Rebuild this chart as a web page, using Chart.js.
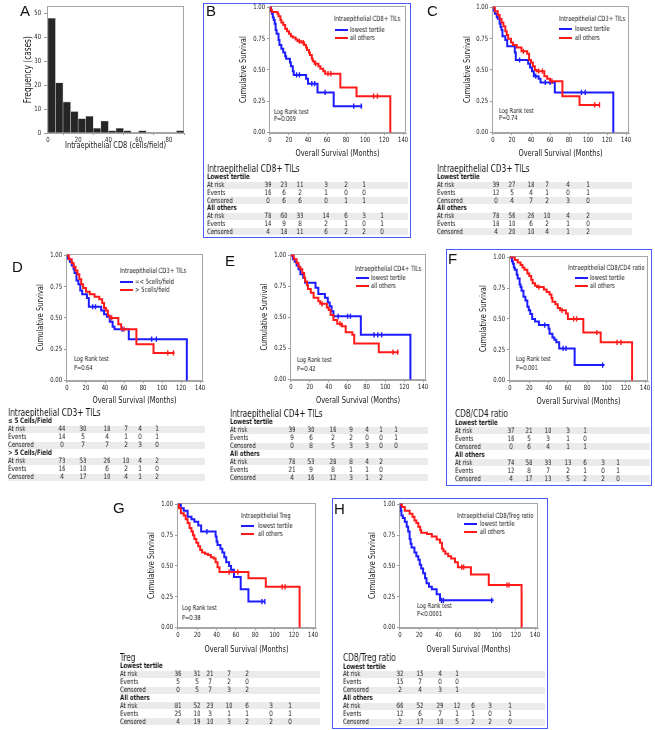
<!DOCTYPE html>
<html><head><meta charset="utf-8">
<script src="https://cdn.jsdelivr.net/npm/chart.js@4.4.1/dist/chart.umd.min.js"></script>
<style>
html,body{margin:0;padding:0;background:#fff;}
body{width:655px;height:730px;position:relative;overflow:hidden;font-family:'DejaVu Sans Condensed','Liberation Sans Narrow','Arial Narrow',sans-serif;color:#161616;}
.abs{position:absolute;white-space:nowrap;line-height:1;will-change:transform;}
canvas{position:absolute;}
.letter{position:absolute;font-family:'Liberation Sans',Arial,sans-serif;font-size:15px;line-height:1;color:#111;}
.box{position:absolute;border:1.5px solid #4b5cff;box-sizing:border-box;}
.shade{position:absolute;background:#ebebeb;}
.lg{position:absolute;height:2px;}
</style></head><body>
<script>
const NARROW = "'DejaVu Sans Condensed','Liberation Sans Narrow','Arial Narrow',sans-serif";
const NARROW_SCALE = 0.82;
const BLUE = '#1c1cff', RED = '#ff1a1a';

// ---------------- DATA ----------------
// Panel A histogram (bin width 5)
const A_binStarts = [0,5,10,15,20,25,30,35,40,45,50,55,60,65,70,75,80,85];
const A_counts    = [48,21,13,9,6,7,2,5,1,2,1,0,1,0,0,0,0,1];
const A_xTicks = [0,20,40,60,80];
const A_yTicks = [0,10,20,30,40,50];

const KM_xTicks = [0,20,40,60,80,100,120,140];
const KM_yTicks = [0,0.25,0.5,0.75,1];

// Kaplan-Meier curves: [month, cumulative survival]
const B_low_curve = [[0,1],[1,0.97],[2,0.95],[3,0.92],[4,0.90],[5,0.87],[6,0.82],[7,0.79],[9,0.74],[10,0.70],[12,0.67],[14,0.64],[16,0.61],[17,0.59],[21,0.56],[22,0.53],[24,0.49],[25,0.46],[38,0.43],[40,0.39],[50,0.32],[67,0.21],[97,0.21]];
const B_low_cens  = [28,31,44,47,58,88,96];
const B_oth_curve = [[0,1],[1,0.98],[2,0.965],[8,0.95],[9,0.93],[11,0.90],[12,0.88],[14,0.86],[16,0.83],[18,0.81],[20,0.79],[22,0.77],[24,0.76],[27,0.745],[29,0.73],[33,0.72],[36,0.70],[38,0.68],[39,0.66],[41,0.64],[42,0.62],[44,0.59],[45,0.57],[47,0.55],[51,0.53],[53,0.51],[56,0.49],[58,0.47],[74,0.36],[91,0.29],[126.5,0]];
const B_oth_cens  = [31,35,48,61,64,109,113];

const C_low_curve = [[0,1],[1,0.975],[2,0.95],[4,0.925],[5,0.91],[7,0.87],[8,0.845],[9,0.82],[10,0.77],[13,0.74],[15,0.69],[23,0.64],[24,0.58],[37,0.55],[39,0.52],[41,0.49],[43,0.45],[48,0.43],[50,0.40],[65,0.32],[126.5,0]];
const C_low_cens  = [28,45,55,60,93,97];
const C_oth_curve = [[0,1],[2,0.97],[5,0.94],[7,0.91],[9,0.88],[11,0.85],[13,0.81],[14.5,0.78],[16,0.75],[19,0.72],[21,0.70],[25,0.68],[30,0.65],[36,0.63],[38,0.58],[40,0.56],[42,0.53],[44,0.50],[46,0.49],[54,0.45],[57,0.43],[60,0.41],[73,0.29],[91,0.22],[112,0.22]];
const C_oth_cens  = [32,48,52,62,107,112];

const D_low_curve = [[0,1],[1,0.975],[3,0.95],[5,0.92],[7,0.89],[8,0.86],[10,0.80],[12,0.77],[14,0.72],[16,0.69],[21,0.66],[23,0.59],[36,0.56],[39,0.53],[42,0.51],[45,0.47],[48,0.43],[50,0.41],[65,0.33],[126,0]];
const D_low_cens  = [27,30,58,89,94];
const D_oth_curve = [[0,1],[2,0.97],[5,0.94],[7,0.91],[9,0.88],[11,0.85],[13,0.81],[15,0.77],[17,0.74],[20,0.71],[24,0.69],[29,0.67],[34,0.65],[37,0.62],[39,0.58],[41,0.56],[43,0.52],[45,0.50],[54,0.45],[57,0.41],[73,0.29],[91,0.22],[113,0.22]];
const D_oth_cens  = [47,60,106,112];

const E_low_curve = [[0,1],[2,0.97],[4,0.95],[6,0.92],[8,0.89],[10,0.85],[13,0.82],[15,0.78],[26,0.74],[29,0.69],[36,0.66],[39,0.62],[41,0.59],[43,0.55],[45,0.51],[74,0.36],[126.5,0]];
const E_low_cens  = [50,60,63,88,92,96];
const E_oth_curve = [[0,1],[3,0.97],[6,0.94],[8,0.91],[10,0.89],[12,0.86],[14,0.82],[15,0.79],[17,0.76],[18,0.73],[21,0.70],[24,0.66],[29,0.63],[31,0.61],[38,0.58],[40,0.56],[42,0.52],[45,0.48],[49,0.45],[54,0.43],[58,0.38],[65,0.36],[67,0.29],[93,0.22],[114,0.22]];
const E_oth_cens  = [33,52,108,113];

const F_low_curve = [[0,1],[2,0.97],[3,0.95],[4,0.92],[5,0.90],[7,0.86],[8,0.83],[10,0.78],[11,0.76],[12,0.73],[14,0.68],[16,0.65],[18,0.60],[19.5,0.57],[21,0.54],[23,0.50],[26,0.48],[30,0.45],[40,0.42],[41,0.38],[44,0.35],[46,0.33],[48,0.31],[51,0.26],[67,0.125],[98,0.125]];
const F_low_cens  = [36,55,58,96];
const F_oth_curve = [[0,1],[5,0.98],[8,0.96],[11,0.94],[13,0.92],[15,0.90],[18,0.87],[20,0.85],[22,0.82],[23.5,0.79],[26,0.77],[28,0.76],[35,0.74],[38,0.72],[41,0.70],[43,0.67],[44,0.64],[47,0.62],[49.5,0.59],[52,0.57],[58,0.545],[60,0.50],[76,0.39],[94,0.31],[126.5,0]];
const F_oth_cens  = [30,54,66,69,90,111,115];

const G_low_curve = [[0,1],[3,0.97],[6,0.95],[10,0.90],[14,0.88],[17,0.86],[21,0.83],[24,0.78],[39,0.74],[40,0.70],[41,0.67],[44,0.64],[46,0.61],[48,0.57],[50,0.53],[53,0.50],[55,0.47],[58,0.41],[65,0.31],[73,0.21],[90,0.21]];
const G_low_cens  = [30,87,90];
const G_oth_curve = [[0,1],[1,0.97],[3,0.93],[6,0.91],[8,0.88],[10,0.85],[12,0.81],[14,0.78],[15.5,0.75],[17,0.72],[19,0.69],[21,0.66],[23,0.63],[25,0.61],[28,0.60],[31,0.59],[34,0.57],[37,0.56],[39,0.53],[41,0.49],[43,0.45],[73,0.40],[91,0.33],[126,0]];
const G_oth_cens  = [53,62,108,111];

const H_low_curve = [[0,1],[1,0.95],[1.5,0.91],[3,0.89],[5,0.86],[7,0.82],[8.5,0.78],[10,0.72],[11,0.68],[12,0.65],[15,0.61],[17,0.58],[19,0.55],[20.5,0.51],[22,0.48],[24,0.44],[26,0.40],[27.5,0.36],[30,0.33],[33,0.31],[38,0.27],[41.5,0.22],[97,0.22]];
const H_low_cens  = [43,45,95];
const H_oth_curve = [[0,1],[2,0.98],[5,0.95],[10,0.925],[13,0.90],[15,0.87],[17,0.85],[19,0.82],[21,0.79],[22,0.77],[28,0.76],[33,0.74],[38,0.715],[41.5,0.69],[43.5,0.64],[45,0.62],[47,0.60],[50,0.58],[53,0.56],[57,0.53],[60,0.49],[73.5,0.43],[92,0.345],[126,0]];
const H_oth_cens  = [64,66,111,113];

// Numbers-at-risk tables: rows = At risk, Events, Censored
const ROW_LABELS = ['At risk','Events','Censored'];
const B_low_table = [[39,23,11,3,2,1],[16,6,2,1,0,0],[0,6,6,0,1,1]];
const B_oth_table = [[78,60,33,14,6,3,1],[14,9,8,2,1,0,1],[4,18,11,6,2,2,0]];
const C_low_table = [[39,27,18,7,4,1],[12,5,4,1,0,1],[0,4,7,2,3,0]];
const C_oth_table = [[78,56,26,10,4,2],[18,10,6,2,1,0],[4,20,10,4,1,2]];
const D_low_table = [[44,30,18,7,4,1],[14,5,4,1,0,1],[0,7,7,2,3,0]];
const D_oth_table = [[73,53,26,10,4,2],[16,10,6,2,1,0],[4,17,10,4,1,2]];
const E_low_table = [[39,30,16,9,4,1,1],[9,6,2,2,0,0,1],[0,8,5,3,3,0,0]];
const E_oth_table = [[78,53,28,8,4,2],[21,9,8,1,1,0],[4,16,12,3,1,2]];
const F_low_table = [[37,21,10,3,1],[16,5,3,1,0],[0,6,4,1,1]];
const F_oth_table = [[74,58,33,13,6,3,1],[12,8,7,2,1,0,1],[4,17,13,5,2,2,0]];
const G_low_table = [[36,31,21,7,2],[5,5,7,2,0],[0,5,7,3,2]];
const G_oth_table = [[81,52,23,10,6,3,1],[25,10,3,1,1,0,1],[4,19,10,3,2,2,0]];
const H_low_table = [[32,15,4,1],[15,7,0,0],[2,4,3,1]];
const H_oth_table = [[66,52,29,12,6,3,1],[12,6,7,1,1,0,1],[2,17,10,5,2,2,0]];

// Texts
const LEGEND_TITLES = {B:'Intraepithelial CD8+ TILs',C:'Intraepithelial CD3+ TILs',D:'Intraepithelial CD3+ TILs',E:'Intraepithelial CD4+ TILs',F:'Intraepithelial CD8/CD4 ratio',G:'Intraepithelial Treg',H:'Intraepithelial CD8/Treg ratio'};
const SERIES_NAMES = ['lowest tertile','all others'];
const D_SERIES_NAMES = ['=< 5cells/field','> 5cells/field'];
const P_VALUES = {B:'P=0.009',C:'P=0.74',D:'P=0.64',E:'P=0.42',F:'P=0.001',G:'P=0.38',H:'P<0.0001'};
const TABLE_TITLES = {B:'Intraepithelial CD8+ TILs',C:'Intraepithelial CD3+ TILs',D:'Intraepithelial CD3+ TILs',E:'Intraepithelial CD4+ TILs',F:'CD8/CD4 ratio',G:'Treg',H:'CD8/Treg ratio'};
const GROUPS = ['Lowest tertile','All others'];
const D_GROUPS = ['\u2264 5 Cells/Field','> 5 Cells/Field'];

// ---------------- LAYOUT (positions only) ----------------
const LAYOUT = {
 A:{plot:[47,5,184,133], yTitleX:27, xTitleY:146, letter:[20,3]},
 B:{plot:[269,6,406,133], yTitleX:243, xTitleY:154, lg:{x:334,y:19,lx:335,tx:350,y1:30,y2:38}, lr:{x:274,y1:112.5,y2:119.5}, tb:{x:207,right:408,ty:169,pitch:7.8,cols:[268,284,300,326,346,364,382]}, letter:[206,3], box:[203,3,411,238]},
 C:{plot:[492,6,629,133], yTitleX:467, xTitleY:154, lg:{x:559,y:19.3,lx:559,tx:575,y1:29.3,y2:37.7}, lr:{x:499,y1:112,y2:119}, tb:{x:437,right:632,ty:169,pitch:7.8,cols:[496,512,531,547,568,588]}, letter:[427,3]},
 D:{plot:[66,254,203,381], yTitleX:40, xTitleY:401, lg:{x:120,y:271,lx:120,tx:135,y1:282,y2:290}, lr:{x:74,y1:360,y2:368.3}, tb:{x:8,right:205,ty:413,pitch:8,cols:[62,83,107,126,140,157]}, letter:[12,259]},
 E:{plot:[290,254,426,380], yTitleX:264, xTitleY:400.7, lg:{x:355,y:269.3,lx:356,tx:371,y1:277.7,y2:286}, lr:{x:297,y1:360.7,y2:369.3}, tb:{x:230,right:428,ty:414,pitch:7.95,cols:[292,311,333,351,367,381,396]}, letter:[225,253]},
 F:{plot:[509,256,648,381], yTitleX:483, xTitleY:401.7, lg:{x:568,y:268.3,lx:575,tx:590,y1:277.7,y2:285.7}, lr:{x:516,y1:360,y2:368.3}, tb:{x:455,right:650,ty:414.3,pitch:8,cols:[511,529,548,568,585,603,618]}, letter:[448,251], box:[446,249,652,486]},
 G:{plot:[177,503,316,628], yTitleX:151, xTitleY:649.3, lg:{x:241,y:515.7,lx:241,tx:258,y1:526,y2:533.5}, lr:{x:182,y1:609,y2:618.3}, tb:{x:120,right:320,ty:658,pitch:7.95,cols:[178,197,210,229,247,271,290]}, letter:[113,500]},
 H:{plot:[399,503,538,628], yTitleX:372, xTitleY:649.3, lg:{x:457,y:515.7,lx:464,tx:480,y1:524.3,y2:532.3}, lr:{x:417,y1:606.7,y2:615}, tb:{x:343,right:545,ty:658.3,pitch:7.95,cols:[400,420,440,457,473,490,510]}, letter:[334,501], box:[332,498,548,729]}
};

// condensed text rendering for chart canvases (the figure uses a condensed face)
const _fillText = CanvasRenderingContext2D.prototype.fillText;
CanvasRenderingContext2D.prototype.fillText = function(t,x,y,mw){
  if (this.canvas && this.canvas.dataset && this.canvas.dataset.narrow) {
    this.save(); this.translate(x,y); this.scale(NARROW_SCALE,1);
    if (mw === undefined || mw === null) _fillText.call(this,t,0,0); else _fillText.call(this,t,0,0,mw/NARROW_SCALE);
    this.restore();
  } else {
    if (mw === undefined || mw === null) _fillText.call(this,t,x,y); else _fillText.call(this,t,x,y,mw);
  }
};

// ---------------- HELPERS ----------------
function el(cls){const d=document.createElement('div');d.className=cls;document.body.appendChild(d);return d;}
function text(x,cy,str,size,o={}){
  const d=el('abs'); d.textContent=str; d.style.fontSize=size+'px';
  d.style.top=(cy-size*0.55)+'px'; d.style.left=x+'px';
  if(o.bold) d.style.fontWeight='bold';
  if(o.align==='center'){ d.style.transformOrigin='50% 50%'; d.style.transform='translateX(-50%) scaleX('+NARROW_SCALE+')'; }
  else { d.style.transformOrigin='0 50%'; d.style.transform='scaleX('+NARROW_SCALE+')'; }
  return d;
}
function survAt(curve,t){let s=curve[0][1];for(const [ti,si] of curve){if(ti<=t)s=si;else break;}return s;}

const boxPlugin={id:'plotBox',beforeDatasetsDraw(chart){const {ctx,chartArea:a}=chart;ctx.save();ctx.strokeStyle='#a6a6a6';ctx.lineWidth=1;ctx.strokeRect(Math.round(a.left)+0.5,Math.round(a.top)+0.5,Math.round(a.right-a.left)-1,Math.round(a.bottom-a.top)-1);ctx.restore();}};

const TITLE_LH = 10.8;
function placeCanvas(lay){
  const [L,T,R,B]=lay.plot;
  const cl=Math.round(lay.yTitleX-TITLE_LH/2), cb=Math.round(lay.xTitleY+TITLE_LH/2);
  const padT=6, padR=9, ct=T-padT, cr=R+padR;
  const cv=document.createElement('canvas');
  cv.dataset.narrow='1';
  cv.width=cr-cl; cv.height=cb-ct;
  cv.style.left=cl+'px'; cv.style.top=ct+'px'; cv.style.width=(cr-cl)+'px'; cv.style.height=(cb-ct)+'px';
  document.body.appendChild(cv);
  return {cv,yW:L-cl,xH:cb-B,padT,padR};
}
function axisCommon(){
  return {
    ticks:{font:{family:NARROW,size:7.2},color:'#222',maxRotation:0,autoSkip:false},
    grid:{drawOnChartArea:false,tickLength:2,color:'#9a9a9a'},
    border:{color:'#a6a6a6'}
  };
}

function kmChart(key,lowCurve,othCurve,lowCens,othCens){
  const lay=LAYOUT[key]; const g=placeCanvas(lay);
  const xa=axisCommon(), ya=axisCommon();
  new Chart(g.cv,{
    type:'line',
    data:{datasets:[
      {data:othCurve.map(([x,y])=>({x,y})),borderColor:RED,borderWidth:2,stepped:true,pointRadius:0,fill:false},
      {type:'scatter',data:othCens.map(t=>({x:t,y:survAt(othCurve,t)})),pointStyle:'line',pointRotation:90,pointRadius:2.6,pointBorderColor:RED,pointBorderWidth:1.4,showLine:false},
      {data:lowCurve.map(([x,y])=>({x,y})),borderColor:BLUE,borderWidth:2,stepped:true,pointRadius:0,fill:false},
      {type:'scatter',data:lowCens.map(t=>({x:t,y:survAt(lowCurve,t)})),pointStyle:'line',pointRotation:90,pointRadius:2.6,pointBorderColor:BLUE,pointBorderWidth:1.4,showLine:false}
    ]},
    options:{
      responsive:false,animation:false,devicePixelRatio:1,
      layout:{padding:{top:g.padT,right:g.padR,left:0,bottom:0}},
      plugins:{legend:{display:false},tooltip:{enabled:false}},
      scales:{
        x:Object.assign(xa,{type:'linear',min:-1,max:143,
          afterBuildTicks:s=>{s.ticks=KM_xTicks.map(v=>({value:v}));},
          ticks:Object.assign(xa.ticks,{padding:1}),
          title:{display:true,text:'Overall Survival (Months)',font:{family:NARROW,size:9},color:'#161616',padding:0},
          afterFit:s=>{s.height=g.xH;}}),
        y:Object.assign(ya,{type:'linear',min:-0.005,max:1.01,
          afterBuildTicks:s=>{s.ticks=KM_yTicks.map(v=>({value:v}));},
          ticks:Object.assign(ya.ticks,{padding:2,callback:v=>Number(v).toFixed(2)}),
          title:{display:true,text:'Cumulative Survival',font:{family:NARROW,size:9},color:'#161616',padding:0},
          afterFit:s=>{s.width=g.yW;}})
      }
    },
    plugins:[boxPlugin]
  });
  // legend
  const lg=lay.lg; const names=key==='D'?D_SERIES_NAMES:SERIES_NAMES;
  text(lg.x,lg.y,LEGEND_TITLES[key],7.2);
  [[lg.y1,BLUE,names[0]],[lg.y2,RED,names[1]]].forEach(([y,c,n])=>{
    const l=el('lg'); l.style.left=lg.lx+'px'; l.style.top=(y-1)+'px'; l.style.width='13px'; l.style.background=c;
    text(lg.tx,y,n,7.2);
  });
  // log rank
  text(lay.lr.x,lay.lr.y1,'Log Rank test',6.9);
  text(lay.lr.x,lay.lr.y2,P_VALUES[key],6.9);
}

function kmTable(key,lowT,othT){
  const t=LAYOUT[key].tb; const groups=key==='D'?D_GROUPS:GROUPS;
  text(t.x,t.ty,TABLE_TITLES[key],10);
  const rows=[{label:groups[0],bold:true}];
  lowT.forEach((r,i)=>rows.push({label:ROW_LABELS[i],vals:r,shade:i!==1}));
  rows.push({label:groups[1],bold:true});
  othT.forEach((r,i)=>rows.push({label:ROW_LABELS[i],vals:r,shade:i!==1}));
  const y0=t.ty+8.3;
  rows.forEach((row,k)=>{
    const cy=y0+k*t.pitch;
    if(row.shade){const s=el('shade');s.style.left=t.x+'px';s.style.top=(cy-3.6)+'px';s.style.width=(t.right-t.x)+'px';s.style.height='7px';}
    text(t.x,cy,row.label,7.4,{bold:row.bold});
    if(row.vals) row.vals.forEach((v,j)=>text(t.cols[j],cy,String(v),7.4,{align:'center'}));
  });
}

// ---------------- BUILD ----------------
['B','F','H'].forEach(k=>{const b=LAYOUT[k].box;const d=el('box');d.style.left=b[0]+'px';d.style.top=b[1]+'px';d.style.width=(b[2]-b[0])+'px';d.style.height=(b[3]-b[1])+'px';});

// histogram A
(function(){
  const lay=LAYOUT.A; const g=placeCanvas(lay);
  const xa=axisCommon(), ya=axisCommon();
  new Chart(g.cv,{
    type:'bar',
    data:{datasets:[{data:A_binStarts.map((b,i)=>({x:b+2.5,y:A_counts[i]})),backgroundColor:'#262626',borderColor:'#b5b5b5',borderWidth:0.6,barPercentage:1,categoryPercentage:1}]},
    options:{
      responsive:false,animation:false,devicePixelRatio:1,
      layout:{padding:{top:g.padT,right:g.padR,left:0,bottom:0}},
      plugins:{legend:{display:false},tooltip:{enabled:false}},
      scales:{
        x:Object.assign(xa,{type:'linear',offset:false,min:-0.6,max:90,
          afterBuildTicks:s=>{s.ticks=A_xTicks.map(v=>({value:v}));},
          ticks:Object.assign(xa.ticks,{padding:1}),
          title:{display:true,text:'Intraepithelial CD8 (cells/field)',font:{family:NARROW,size:9},color:'#161616',padding:0},
          afterFit:s=>{s.height=g.xH;}}),
        y:Object.assign(ya,{type:'linear',min:0,max:53,
          afterBuildTicks:s=>{s.ticks=A_yTicks.map(v=>({value:v}));},
          grid:Object.assign(ya.grid,{tickLength:3}),
          ticks:Object.assign(ya.ticks,{padding:3}),
          title:{display:true,text:'Frequency (cases)',font:{family:NARROW,size:10},color:'#161616',padding:0},
          afterFit:s=>{s.width=g.yW;}})
      }
    },
    plugins:[boxPlugin]
  });
})();

kmChart('B',B_low_curve,B_oth_curve,B_low_cens,B_oth_cens);
kmChart('C',C_low_curve,C_oth_curve,C_low_cens,C_oth_cens);
kmChart('D',D_low_curve,D_oth_curve,D_low_cens,D_oth_cens);
kmChart('E',E_low_curve,E_oth_curve,E_low_cens,E_oth_cens);
kmChart('F',F_low_curve,F_oth_curve,F_low_cens,F_oth_cens);
kmChart('G',G_low_curve,G_oth_curve,G_low_cens,G_oth_cens);
kmChart('H',H_low_curve,H_oth_curve,H_low_cens,H_oth_cens);

kmTable('B',B_low_table,B_oth_table);
kmTable('C',C_low_table,C_oth_table);
kmTable('D',D_low_table,D_oth_table);
kmTable('E',E_low_table,E_oth_table);
kmTable('F',F_low_table,F_oth_table);
kmTable('G',G_low_table,G_oth_table);
kmTable('H',H_low_table,H_oth_table);

['A','B','C','D','E','F','G','H'].forEach(k=>{const d=el('letter');d.textContent=k;d.style.left=LAYOUT[k].letter[0]+'px';d.style.top=LAYOUT[k].letter[1]+'px';});
</script>
</body></html>
